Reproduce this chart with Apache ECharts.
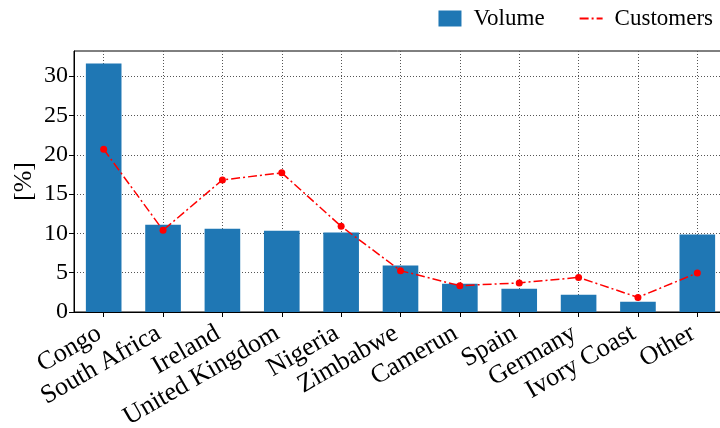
<!DOCTYPE html>
<html>
<head>
<meta charset="utf-8">
<script src="https://cdn.jsdelivr.net/npm/echarts@6/dist/echarts.min.js"></script>
<style>html,body{margin:0;padding:0;background:#fff}#c{width:720px;height:428px}</style>
</head>
<body>
<div id="c"></div>
<script>
const categories = ['Congo','South Africa','Ireland','United Kingdom','Nigeria','Zimbabwe','Camerun','Spain','Germany','Ivory Coast','Other'];
const volume = [31.6, 11.1, 10.6, 10.35, 10.1, 5.9, 3.6, 2.97, 2.2, 1.3, 9.85];
const customers = [20.7, 10.4, 16.8, 17.7, 10.9, 5.26, 3.35, 3.7, 4.4, 1.86, 4.97];
const yTicks = [0, 5, 10, 15, 20, 25, 30];

const FONT = 'Liberation Serif';
const chart = echarts.init(document.getElementById('c'), null, {renderer: 'canvas'});
chart.setOption({
  animation: false,
  textStyle: {fontFamily: FONT},
  grid: {left: 74, top: 51, bottom: 116, right: -7, show: true, borderColor: '#000', borderWidth: 1, containLabel: false, outerBoundsMode: 'none'},
  legend: {
    right: 2, top: 2, itemWidth: 23, itemHeight: 16, itemGap: 34,
    textStyle: {fontFamily: FONT, fontSize: 23, color: '#000', padding: [0, 0, 0, 7]},
    data: [{name: 'Volume', icon: 'rect'}, {name: 'Customers', itemStyle: {opacity: 0}}]
  },
  xAxis: {
    type: 'category', data: categories,
    axisLine: {show: true, lineStyle: {color: '#000', width: 1}},
    axisTick: {show: true, alignWithLabel: true, length: 5, lineStyle: {color: '#000'}},
    axisLabel: {rotate: 30, fontSize: 26, color: '#000', fontFamily: FONT, margin: 17, interval: 0, padding: [0, 5, 0, 0]},
    splitLine: {show: true, alignWithLabel: true, lineStyle: {color: '#555', type: [1, 2], width: 1}}
  },
  yAxis: {
    type: 'value', min: 0, max: 33.2, interval: 5,
    name: '[%]', nameLocation: 'middle', nameGap: 37, nameRotate: 90, nameMoveOverlap: false,
    nameTextStyle: {fontSize: 26, color: '#000', fontFamily: FONT},
    axisLine: {show: true, lineStyle: {color: '#000', width: 1}},
    axisTick: {show: true, length: 5, lineStyle: {color: '#000'}, customValues: yTicks},
    axisLabel: {fontSize: 24, color: '#000', fontFamily: FONT, margin: 6, customValues: yTicks},
    splitLine: {show: true, lineStyle: {color: '#555', type: [1, 2], width: 1}}
  },
  series: [
    {name: 'Volume', type: 'bar', data: volume, barWidth: '60%', itemStyle: {color: '#1f77b4'}, z: 2},
    {name: 'Customers', type: 'line', data: customers, symbol: 'circle', symbolSize: 7,
     itemStyle: {color: '#ff0000'}, lineStyle: {color: '#ff0000', width: 1.5, type: [9, 3, 2, 3]}, z: 3}
  ]
});
</script>
</body>
</html>
